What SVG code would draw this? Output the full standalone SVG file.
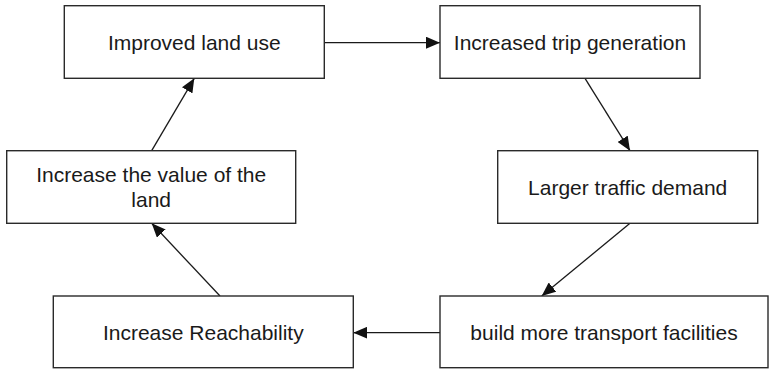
<svg xmlns="http://www.w3.org/2000/svg" width="769" height="370" viewBox="0 0 769 370">
<style>
.box{fill:#fff;stroke:#2a2a2a;stroke-width:1.4}
.lbl{font-family:"Liberation Sans",Arial,sans-serif;font-size:21px;fill:#1a1a1a;text-anchor:middle}
.con{stroke:#1a1a1a;stroke-width:1.3;fill:none;marker-end:url(#arr)}
</style>
<defs>
<marker id="arr" markerUnits="userSpaceOnUse" markerWidth="14" markerHeight="12" refX="14" refY="6" orient="auto">
<path d="M0,0 L14,6 L0,12 z" fill="#111"/>
</marker>
</defs>
<rect width="769" height="370" fill="#fff"/>
<g id="connectors">
<line class="con" x1="324.3" y1="42.7" x2="440" y2="42.7"/>
<line class="con" x1="585" y1="78.3" x2="630" y2="150.7"/>
<line class="con" x1="630" y1="223.3" x2="541.7" y2="296"/>
<line class="con" x1="440" y1="332.7" x2="353.3" y2="332.7"/>
<line class="con" x1="220" y1="296" x2="151.7" y2="223.3"/>
<line class="con" x1="151.7" y1="150.7" x2="194.3" y2="78.3"/>
</g>
<g id="node-improved-land-use">
<rect class="box" x="64.3" y="5.7" width="260" height="72.6"/>
<text class="lbl" x="194.3" y="50">Improved land use</text>
</g>
<g id="node-increased-trip-generation">
<rect class="box" x="440" y="5.7" width="260" height="72.6"/>
<text class="lbl" x="570" y="50">Increased trip generation</text>
</g>
<g id="node-larger-traffic-demand">
<rect class="box" x="497.7" y="150.7" width="260" height="72.6"/>
<text class="lbl" x="627.7" y="194.5">Larger traffic demand</text>
</g>
<g id="node-build-more-transport-facilities">
<rect class="box" x="440" y="296" width="328" height="71.7"/>
<text class="lbl" x="604" y="340">build more transport facilities</text>
</g>
<g id="node-increase-reachability">
<rect class="box" x="53.3" y="296" width="300" height="71.7"/>
<text class="lbl" x="203.3" y="340">Increase Reachability</text>
</g>
<g id="node-increase-value-of-land">
<rect class="box" x="6.7" y="150.7" width="289" height="72.6"/>
<text class="lbl" x="151.2" y="181.7">Increase the value of the</text>
<text class="lbl" x="151.2" y="206.7">land</text>
</g>
</svg>
